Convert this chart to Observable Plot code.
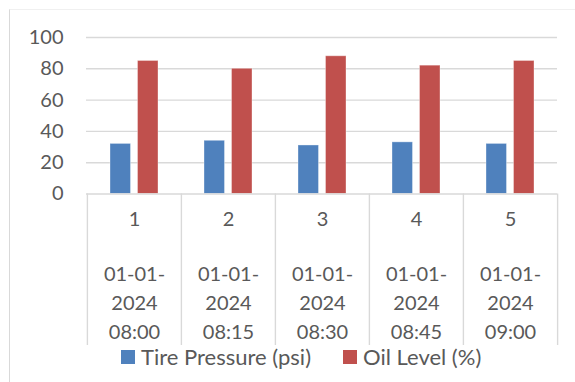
<!DOCTYPE html>
<html>
<head>
<meta charset="utf-8">
<script src="https://cdn.jsdelivr.net/npm/d3@7"></script>
<script src="https://cdn.jsdelivr.net/npm/@observablehq/plot@0.6"></script>
<style>
  html, body { margin: 0; padding: 0; background: #fff; }
  #wrap { position: relative; width: 575px; height: 382px; overflow: hidden; font-family: Lato, "Open Sans", sans-serif; }
  #border { position: absolute; left: 9px; top: 9px; width: 700px; height: 500px; border-left: 1.5px solid #d9d9d9; border-top: 1px solid #f0f0f0; }
  #chart { position: absolute; left: 0; top: 0; }
  #legend { position: absolute; left: 121px; top: 340px; }
  #legend, #legend * { font-family: Lato, "Open Sans", sans-serif !important; font-size: 22px !important; color: #595959 !important; line-height: 20px !important; }
  #legend [class*="swatch"] { margin-right: 32px !important; }
  #legend svg { margin-right: 6px !important; }
</style>
</head>
<body>
<div id="wrap">
  <div id="border"></div>
  <div id="chart"></div>
  <div id="legend"></div>
</div>
<script>
// Data
const categories = ["1", "2", "3", "4", "5"];
const timestamps = ["01-01-2024 08:00", "01-01-2024 08:15", "01-01-2024 08:30", "01-01-2024 08:45", "01-01-2024 09:00"];
const tirePressure = [32, 34, 31, 33, 32];
const oilLevel = [85, 80, 88, 82, 85];
const seriesNames = ["Tire Pressure (psi)", "Oil Level (%)"];
const yTicks = [0, 20, 40, 60, 80, 100];

const W = 575, H = 382;
const mL = 86, mR = 18, mT = 37, mB = 188.5;
const bw = (W - mL - mR) / categories.length;
const frameH = H - mT - mB;
const colors = ["#4F81BD", "#C0504D"];
const textColor = "#595959";
const gridColor = "#d9d9d9";

// Excel-style wrapping of the date label
const wrapDate = s => s.replace(/^(\d\d-\d\d-)(\d{4}) /, "$1\n$2\n");

const chart = Plot.plot({
  width: W,
  height: H,
  marginLeft: mL,
  marginRight: mR,
  marginTop: mT,
  marginBottom: mB,
  style: { fontFamily: "Lato, 'Open Sans', sans-serif", fontSize: "20px", color: textColor, background: "transparent", overflow: "visible" },
  x: { type: "band", domain: categories, padding: 0, axis: null },
  y: { domain: [0, 100], ticks: yTicks, tickSize: 0, tickPadding: 23, label: null, tickFormat: d => String(d) },
  color: { domain: seriesNames, range: colors },
  marks: [
    Plot.ruleY(yTicks.filter(d => d > 0), { stroke: gridColor, strokeWidth: 1.4 }),
    Plot.barY(tirePressure, { x: (d, i) => categories[i], y: d => d, fill: colors[0], insetLeft: 23, insetRight: 50.5, stroke: "#ffffff", strokeOpacity: 0.35, strokeWidth: 1 }),
    Plot.barY(oilLevel, { x: (d, i) => categories[i], y: d => d, fill: colors[1], insetLeft: 50.5, insetRight: 23, stroke: "#ffffff", strokeOpacity: 0.35, strokeWidth: 1 }),
    Plot.ruleY([0], { stroke: gridColor, strokeWidth: 1.4 }),
    Plot.ruleX(categories, { x: d => d, dx: -bw / 2, insetTop: frameH, insetBottom: -151.5, stroke: gridColor, strokeWidth: 1.4 }),
    Plot.ruleX(categories.slice(-1), { x: d => d, dx: bw / 2, insetTop: frameH, insetBottom: -151.5, stroke: gridColor, strokeWidth: 1.4 }),
    Plot.text(categories, { x: d => d, text: d => d, frameAnchor: "bottom", dy: 31.5, fill: textColor, fontSize: 20 }),
    Plot.text(timestamps, { x: (d, i) => categories[i], text: d => wrapDate(d), frameAnchor: "bottom", dy: 106.5, lineAnchor: "middle", lineHeight: 1.45, fill: textColor, fontSize: 20 })
  ]
});
document.getElementById("chart").appendChild(chart);

const legend = chart.legend("color", {
  swatchSize: 14,
  style: { fontFamily: "Lato, 'Open Sans', sans-serif", fontSize: "22px", color: textColor }
});
document.getElementById("legend").appendChild(legend);
</script>
</body>
</html>
